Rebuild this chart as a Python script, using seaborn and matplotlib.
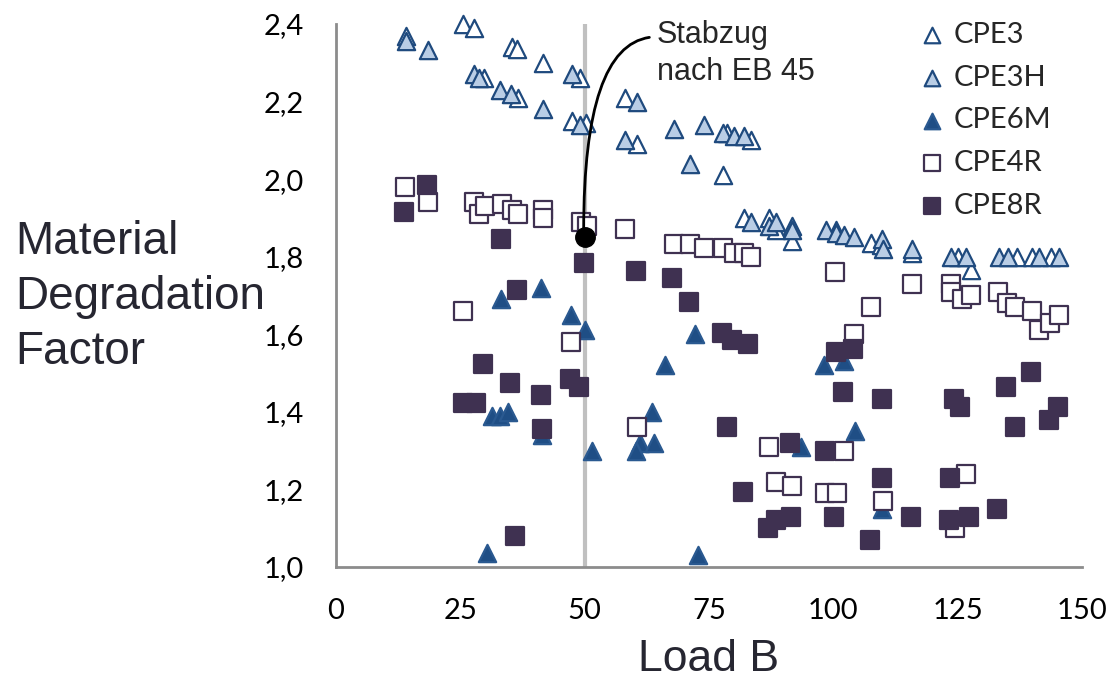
import matplotlib
matplotlib.use("Agg")
import matplotlib.pyplot as plt
import seaborn as sns

# series
cpe3_x = [14, 25.5, 27.7, 35.3, 36.3, 41.6, 49.1, 29.8, 36.5, 47.4, 50.3, 58.2, 60.5, 78.7,
          83.5, 77.9, 82, 87.1, 88.5, 91.6, 100.5, 107.6, 109.5, 115.9, 125, 127.6, 136.9,
          140, 143.7]
cpe3_y = [2.37, 2.40, 2.39, 2.34, 2.335, 2.30, 2.26, 2.26, 2.21, 2.15, 2.145, 2.21, 2.09, 2.12,
          2.10, 2.01, 1.90, 1.90, 1.87, 1.84, 1.87, 1.835, 1.83, 1.81, 1.80, 1.766, 1.80,
          1.80, 1.80]

cpe3h_x = [14, 18.4, 47.4, 27.7, 28.7, 33, 35.1, 41.6, 49.1, 60.5, 58.2, 67.9, 74, 77.8, 80.1,
           82.1, 71.2, 83.5, 87.1, 88.5, 91.6, 91.6, 98.5, 100.5, 102.2, 104.2, 109.7, 109.9,
           115.9, 123.6, 126.6, 133.3, 135.2, 141.3, 145.3]
cpe3h_y = [2.355, 2.333, 2.27, 2.27, 2.26, 2.23, 2.22, 2.18, 2.14, 2.20, 2.10, 2.13, 2.14, 2.12,
           2.11, 2.11, 2.04, 1.89, 1.88, 1.89, 1.88, 1.87, 1.87, 1.86, 1.857, 1.85, 1.845, 1.82,
           1.82, 1.80, 1.80, 1.80, 1.80, 1.80, 1.80]

cpe6m_x = [33.1, 41.3, 47.2, 50, 31.3, 32.9, 34.6, 41.4, 51.5, 30.4, 72.2, 66.2, 98.2, 102.2,
           63.5, 61.2, 60.4, 63.9, 104.3, 93.5, 72.8, 109.7]
cpe6m_y = [1.69, 1.72, 1.65, 1.61, 1.39, 1.39, 1.40, 1.34, 1.30, 1.036, 1.60, 1.52, 1.52, 1.53,
           1.40, 1.32, 1.30, 1.32, 1.35, 1.31, 1.03, 1.15]

cpe4r_x = [13.9, 18.4, 27.7, 28.7, 29.9, 33.3, 35.3, 36.6, 41.6, 41.6, 49.3, 50.5, 25.6, 47.3,
           58.2, 67.9, 71.2, 73.9, 77.9, 80.1, 82.1, 83.5, 100.3, 107.5, 104.1, 60.5, 87.1,
           102.1, 88.5, 91.6, 98.3, 100.7, 109.9, 115.9, 123.6, 123.6, 125.8, 127.6, 133.2,
           135, 136.6, 140, 141.3, 143.6, 145.3, 126.6, 124.4]
cpe4r_y = [1.98, 1.94, 1.94, 1.91, 1.93, 1.935, 1.92, 1.91, 1.92, 1.90, 1.89, 1.88, 1.66, 1.58,
           1.872, 1.832, 1.832, 1.822, 1.822, 1.81, 1.81, 1.80, 1.76, 1.67, 1.60, 1.36, 1.31,
           1.30, 1.22, 1.21, 1.19, 1.19, 1.17, 1.73, 1.73, 1.71, 1.69, 1.70, 1.71,
           1.68, 1.67, 1.66, 1.61, 1.63, 1.65, 1.24, 1.10]

cpe8r_x = [18.2, 13.7, 33.1, 49.9, 36.4, 29.5, 34.9, 25.6, 28.2, 41.3, 47, 48.9, 41.4, 36,
           60.4, 67.6, 70.9, 77.6, 79.7, 82.9, 100.5, 103.9, 101.9, 78.6, 91.3, 98.3, 81.8,
           91.5, 88.5, 86.8, 100.1, 107.4, 109.7, 109.7, 115.7, 124.3, 125.5, 123.5, 123.2,
           127.3, 133, 134.8, 139.8, 136.6, 145.2, 143.3]
cpe8r_y = [1.985, 1.915, 1.845, 1.785, 1.714, 1.523, 1.474, 1.424, 1.424, 1.443, 1.484, 1.463,
           1.355, 1.08, 1.764, 1.744, 1.684, 1.603, 1.586, 1.575, 1.554, 1.562, 1.452, 1.36,
           1.32, 1.30, 1.193, 1.13, 1.12, 1.10, 1.13, 1.07, 1.432, 1.23, 1.13, 1.432, 1.413,
           1.23, 1.12, 1.13, 1.15, 1.463, 1.504, 1.36, 1.413, 1.38]

x_ticks = [0, 25, 50, 75, 100, 125, 150]
y_ticks = [1.0, 1.2, 1.4, 1.6, 1.8, 2.0, 2.2, 2.4]
y_tick_labels = ["1,0", "1,2", "1,4", "1,6", "1,8", "2,0", "2,2", "2,4"]

note_x, note_y = 50, 1.85
note_text = "Stabzug\nnach EB 45"

sns.set_style("white")
plt.rcParams['font.family'] = ['Lato', 'DejaVu Sans']

fig = plt.figure(figsize=(11.1, 6.85), dpi=100)
ax = fig.add_axes([336 / 1110, 1 - 567 / 685, (1082 - 336) / 1110, (567 - 24) / 685])

ax.axvline(50, color='#c0c0c0', lw=3, zorder=0.5)

blue = '#1f4a7e'
purple = '#3f3151'
common = dict(ax=ax, s=155, linewidth=1.6, clip_on=False, zorder=3)
sns.scatterplot(x=cpe3_x, y=cpe3_y, marker='^', color='white', edgecolor=blue, label='CPE3', **common)
sns.scatterplot(x=cpe3h_x, y=cpe3h_y, marker='^', color='#b9cde5', edgecolor=blue, label='CPE3H', **common)
sns.scatterplot(x=cpe6m_x, y=cpe6m_y, marker='^', color='#1f4e85', edgecolor='#2a5990', label='CPE6M', **common)
sns.scatterplot(x=cpe4r_x, y=cpe4r_y, marker='s', color='white', edgecolor=purple, label='CPE4R', **common)
sns.scatterplot(x=cpe8r_x, y=cpe8r_y, marker='s', color=purple, edgecolor=purple, label='CPE8R', **common)

ax.plot([note_x], [note_y], 'o', color='black', ms=14, zorder=4)
ax.annotate(note_text, xy=(note_x - 0.2, note_y + 0.02), xytext=(64.5, 2.41),
            ha='left', va='top', fontsize=22, family='Liberation Sans', linespacing=1.3,
            annotation_clip=False,
            arrowprops=dict(arrowstyle='-', color='black', lw=2, shrinkA=3, shrinkB=0,
                            relpos=(0, 0.75), connectionstyle='angle3,angleA=0,angleB=90'))

ax.set_xlim(0, 150)
ax.set_ylim(1.0, 2.4)
ax.set_xticks(x_ticks)
ax.set_yticks(y_ticks)
ax.set_yticklabels(y_tick_labels)
ax.tick_params(axis='both', direction='out', length=8, width=1.5, color='#8c8c8c',
               labelsize=21, labelcolor='black')
ax.tick_params(axis='y', pad=15)
ax.tick_params(axis='x', pad=14)
for side in ['top', 'right']:
    ax.spines[side].set_visible(False)
for side in ['left', 'bottom']:
    ax.spines[side].set_color('#8c8c8c')
    ax.spines[side].set_linewidth(2)

ax.set_xlabel("Load B", fontsize=32, family='Liberation Sans', color='#262631', labelpad=11)
ax.set_ylabel("")
fig.text(15 / 1110, 1 - 297 / 685, "Material\nDegradation\nFactor", ha='left', va='center',
         fontsize=33, family='Liberation Sans', color='#262631', linespacing=1.32)

ax.legend(loc='upper left', bbox_to_anchor=(917 / 1110, 1 - 22 / 685),
          bbox_transform=fig.transFigure, frameon=False, fontsize=21, markerscale=0.9,
          handlelength=1.0, handletextpad=0.25, labelspacing=0.57, borderpad=0, borderaxespad=0)

fig.savefig("out.png", dpi=100)
